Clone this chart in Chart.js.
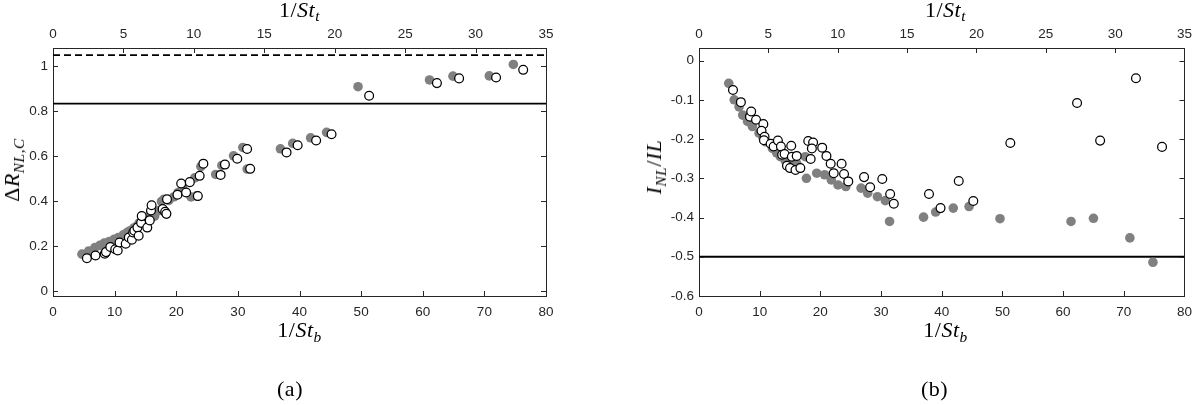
<!DOCTYPE html>
<html><head><meta charset="utf-8">
<script src="https://cdn.jsdelivr.net/npm/chart.js@4"></script>
<style>
html,body{margin:0;padding:0;background:#fff;}
body{width:1200px;height:405px;position:relative;overflow:hidden;}
canvas{position:absolute;top:0;}
.t{position:absolute;font-family:"Liberation Serif","Times New Roman",serif;font-size:22px;line-height:1;white-space:nowrap;color:#000;transform:translate(-50%,-50%);letter-spacing:0.5px;}
.t i{font-style:italic;}
.t .s{font-size:70%;position:relative;top:0.3em;}
.t.r{transform:translate(-50%,-50%) rotate(-90deg);}
</style></head>
<body>
<canvas id="ca" width="600" height="320" style="left:0"></canvas>
<canvas id="cb" width="600" height="320" style="left:600px"></canvas>

<div class="t" style="left:299.5px;top:9.5px">1/<i>St</i><span class="s"><i>t</i></span></div>
<div class="t" style="left:299.5px;top:330px">1/<i>St</i><span class="s"><i>b</i></span></div>
<div class="t r" style="left:12px;top:170px">&Delta;<i>R</i><span class="s"><i>NL,C</i></span></div>
<div class="t" style="left:290px;top:389px">(a)</div>

<div class="t" style="left:945.5px;top:9.5px">1/<i>St</i><span class="s"><i>t</i></span></div>
<div class="t" style="left:945.5px;top:330px">1/<i>St</i><span class="s"><i>b</i></span></div>
<div class="t r" style="left:654px;top:167px"><i>I</i><span class="s"><i>NL</i></span>/<i>IL</i></div>
<div class="t" style="left:934.5px;top:389px">(b)</div>

<script>
// ---------- data ----------
const xTicksBottom = [0,10,20,30,40,50,60,70,80];
const xTicksTop = [0,5,10,15,20,25,30,35];
const yTicksA = [0,0.2,0.4,0.6,0.8,1];
const yTicksB = [-0.6,-0.5,-0.4,-0.3,-0.2,-0.1,0];

// panel (a): Delta R_{NL,C} vs 1/St_b
const aFilledX = [4.7,5.8,6.8,7.6,8.3,9.1,9.9,10.6,11.4,12.0,12.5,13.1,13.6,14.0,14.6,15.2,15.5,15.8,16.5,17.2,17.6,18.0,18.8,19.6,20.3,21.0,22.4,23.0,23.3,24.0,26.4,27.4,29.3,30.8,31.5,36.9,38.9,41.8,44.4,49.5,61.1,64.9,70.8,74.7];
const aFilledY = [0.166,0.180,0.195,0.205,0.215,0.222,0.232,0.240,0.252,0.262,0.270,0.282,0.290,0.305,0.318,0.300,0.325,0.345,0.335,0.360,0.400,0.410,0.405,0.420,0.440,0.460,0.420,0.505,0.425,0.555,0.520,0.560,0.603,0.640,0.544,0.634,0.658,0.683,0.707,0.910,0.940,0.957,0.958,1.009];
const aOpenX = [5.5,6.9,8.4,8.6,9.3,10.1,10.5,10.8,11.8,12.3,12.8,13.0,13.2,13.7,13.9,14.3,14.4,15.3,15.7,15.9,16.0,17.8,18.2,18.4,18.5,20.2,20.8,21.6,22.2,23.5,23.8,24.4,27.2,27.9,29.9,31.5,32.0,37.9,39.7,42.7,45.2,51.3,62.3,65.9,71.9,76.3];
const aOpenY = [0.148,0.160,0.168,0.175,0.198,0.188,0.182,0.218,0.212,0.240,0.230,0.262,0.270,0.284,0.248,0.305,0.335,0.284,0.316,0.360,0.383,0.366,0.354,0.345,0.410,0.430,0.480,0.440,0.486,0.424,0.514,0.568,0.518,0.564,0.590,0.633,0.545,0.618,0.650,0.671,0.699,0.870,0.926,0.947,0.951,0.985];
const aSolidLevel = 0.835;
const aDashedLevel = 1.05;

// panel (b): I_NL/IL vs 1/St_b
const bFilledX = [4.9,5.8,6.6,7.2,8.0,8.8,9.9,10.5,11.0,12.1,12.8,13.4,14.2,14.8,16.1,17.5,17.7,19.4,20.7,21.8,22.9,24.2,26.7,27.8,29.4,30.7,31.4,37.0,39.0,41.9,44.5,49.6,61.3,65.0,71.0,74.8];
const bFilledY = [-0.058,-0.100,-0.118,-0.139,-0.155,-0.168,-0.185,-0.195,-0.207,-0.224,-0.235,-0.245,-0.255,-0.262,-0.262,-0.245,-0.300,-0.287,-0.291,-0.304,-0.317,-0.321,-0.325,-0.338,-0.347,-0.357,-0.410,-0.399,-0.386,-0.376,-0.372,-0.403,-0.410,-0.402,-0.452,-0.514];
const bOpenX = [5.6,6.9,8.4,8.6,9.4,10.6,10.3,10.8,10.7,11.8,12.3,13.0,13.5,13.7,14.1,14.5,15.0,15.2,15.3,15.9,16.1,16.7,18.0,18.8,18.6,18.4,20.3,21.0,21.7,22.2,23.5,23.9,24.6,27.2,28.2,30.2,31.5,32.1,37.9,39.8,42.8,45.2,51.3,62.3,66.1,72.0,76.3];
const bOpenY = [-0.075,-0.106,-0.143,-0.130,-0.151,-0.162,-0.179,-0.194,-0.203,-0.212,-0.219,-0.204,-0.219,-0.240,-0.238,-0.268,-0.274,-0.217,-0.245,-0.279,-0.243,-0.274,-0.205,-0.209,-0.224,-0.251,-0.222,-0.243,-0.263,-0.287,-0.263,-0.289,-0.308,-0.297,-0.323,-0.302,-0.340,-0.365,-0.340,-0.376,-0.307,-0.358,-0.210,-0.108,-0.204,-0.045,-0.220];
const bSolidLevel = -0.5;

// ---------- helpers ----------
const pts = (xs, ys) => xs.map((x, i) => ({x, y: ys[i]}));
const AX = '#262626';
const tickFont = {family: '"Liberation Sans", Arial, Helvetica, sans-serif', size: 13.5};

const inwardTicks = {
  id: 'inwardTicks',
  afterDraw(chart) {
    const {ctx, chartArea: a, scales} = chart;
    const L = 5;
    ctx.save();
    ctx.strokeStyle = AX;
    ctx.lineWidth = 1;
    ctx.beginPath();
    scales.x.ticks.forEach(t => {
      const p = Math.round(scales.x.getPixelForValue(t.value)) + 0.5;
      ctx.moveTo(p, a.bottom); ctx.lineTo(p, a.bottom - L);
    });
    scales.x2.ticks.forEach(t => {
      const p = Math.round(scales.x2.getPixelForValue(t.value)) + 0.5;
      ctx.moveTo(p, a.top); ctx.lineTo(p, a.top + L);
    });
    scales.y.ticks.forEach(t => {
      const p = Math.round(scales.y.getPixelForValue(t.value)) + 0.5;
      ctx.moveTo(a.left, p); ctx.lineTo(a.left + L, p);
      ctx.moveTo(a.right, p); ctx.lineTo(a.right - L, p);
    });
    ctx.stroke();
    ctx.restore();
  }
};

function makePanel(id, cfg) {
  const datasets = [];
  cfg.lines.forEach(l => {
    datasets.push({
      data: [{x: xTicksBottom[0], y: l.level}, {x: xTicksBottom[xTicksBottom.length - 1], y: l.level}],
      showLine: true, pointRadius: 0, borderColor: '#000', borderWidth: 1.8,
      borderDash: l.dash ? [7, 4] : [], order: 3, xAxisID: 'x', yAxisID: 'y'
    });
  });
  datasets.push({
    data: pts(cfg.fx, cfg.fy), pointRadius: 4.8, pointBackgroundColor: '#808080',
    pointBorderColor: '#808080', pointBorderWidth: 0, order: 2, xAxisID: 'x', yAxisID: 'y'
  });
  datasets.push({
    data: pts(cfg.ox, cfg.oy), pointRadius: 4.4, pointBackgroundColor: '#ffffff',
    pointBorderColor: '#000000', pointBorderWidth: 1.25, order: 1, xAxisID: 'x', yAxisID: 'y'
  });
  const border = {display: true, color: AX, width: 1};
  const grid = {display: false, drawTicks: false};
  const setTicks = arr => s => { s.ticks = arr.map(v => ({value: v})); };
  new Chart(document.getElementById(id), {
    type: 'scatter',
    data: {datasets},
    plugins: [inwardTicks],
    options: {
      responsive: false, animation: false, devicePixelRatio: 1,
      layout: {padding: 0},
      plugins: {legend: {display: false}, tooltip: {enabled: false}},
      scales: {
        x: {type: 'linear', position: 'bottom', min: 0, max: 80, grid, border,
            afterBuildTicks: setTicks(xTicksBottom), afterFit: s => { s.height = 24; },
            ticks: {padding: 8, font: tickFont, color: AX, maxRotation: 0, autoSkip: false, callback: v => String(v)}},
        x2: {type: 'linear', position: 'top', min: 0, max: 35, grid, border,
            afterBuildTicks: setTicks(xTicksTop), afterFit: s => { s.height = 48; },
            ticks: {padding: 6, font: tickFont, color: AX, maxRotation: 0, autoSkip: false, callback: v => String(v)}},
        y: {type: 'linear', position: 'left', min: cfg.ymin, max: cfg.ymax, grid, border,
            afterBuildTicks: setTicks(cfg.yticks), afterFit: s => { s.width = cfg.yw; },
            ticks: {padding: 5, font: tickFont, color: AX, autoSkip: false, callback: v => String(v)}},
        y2: {type: 'linear', position: 'right', min: cfg.ymin, max: cfg.ymax, grid, border,
            afterFit: s => { s.width = cfg.y2w; },
            ticks: {display: false}}
      }
    }
  });
}

makePanel('ca', {
  fx: aFilledX, fy: aFilledY, ox: aOpenX, oy: aOpenY,
  lines: [{level: aSolidLevel, dash: false}, {level: aDashedLevel, dash: true}],
  ymin: -0.02, ymax: 1.082, yticks: yTicksA, yw: 53, y2w: 54
});
makePanel('cb', {
  fx: bFilledX, fy: bFilledY, ox: bOpenX, oy: bOpenY,
  lines: [{level: bSolidLevel, dash: false}],
  ymin: -0.6, ymax: 0.032, yticks: yTicksB, yw: 99, y2w: 7.5
});
</script>
</body></html>
